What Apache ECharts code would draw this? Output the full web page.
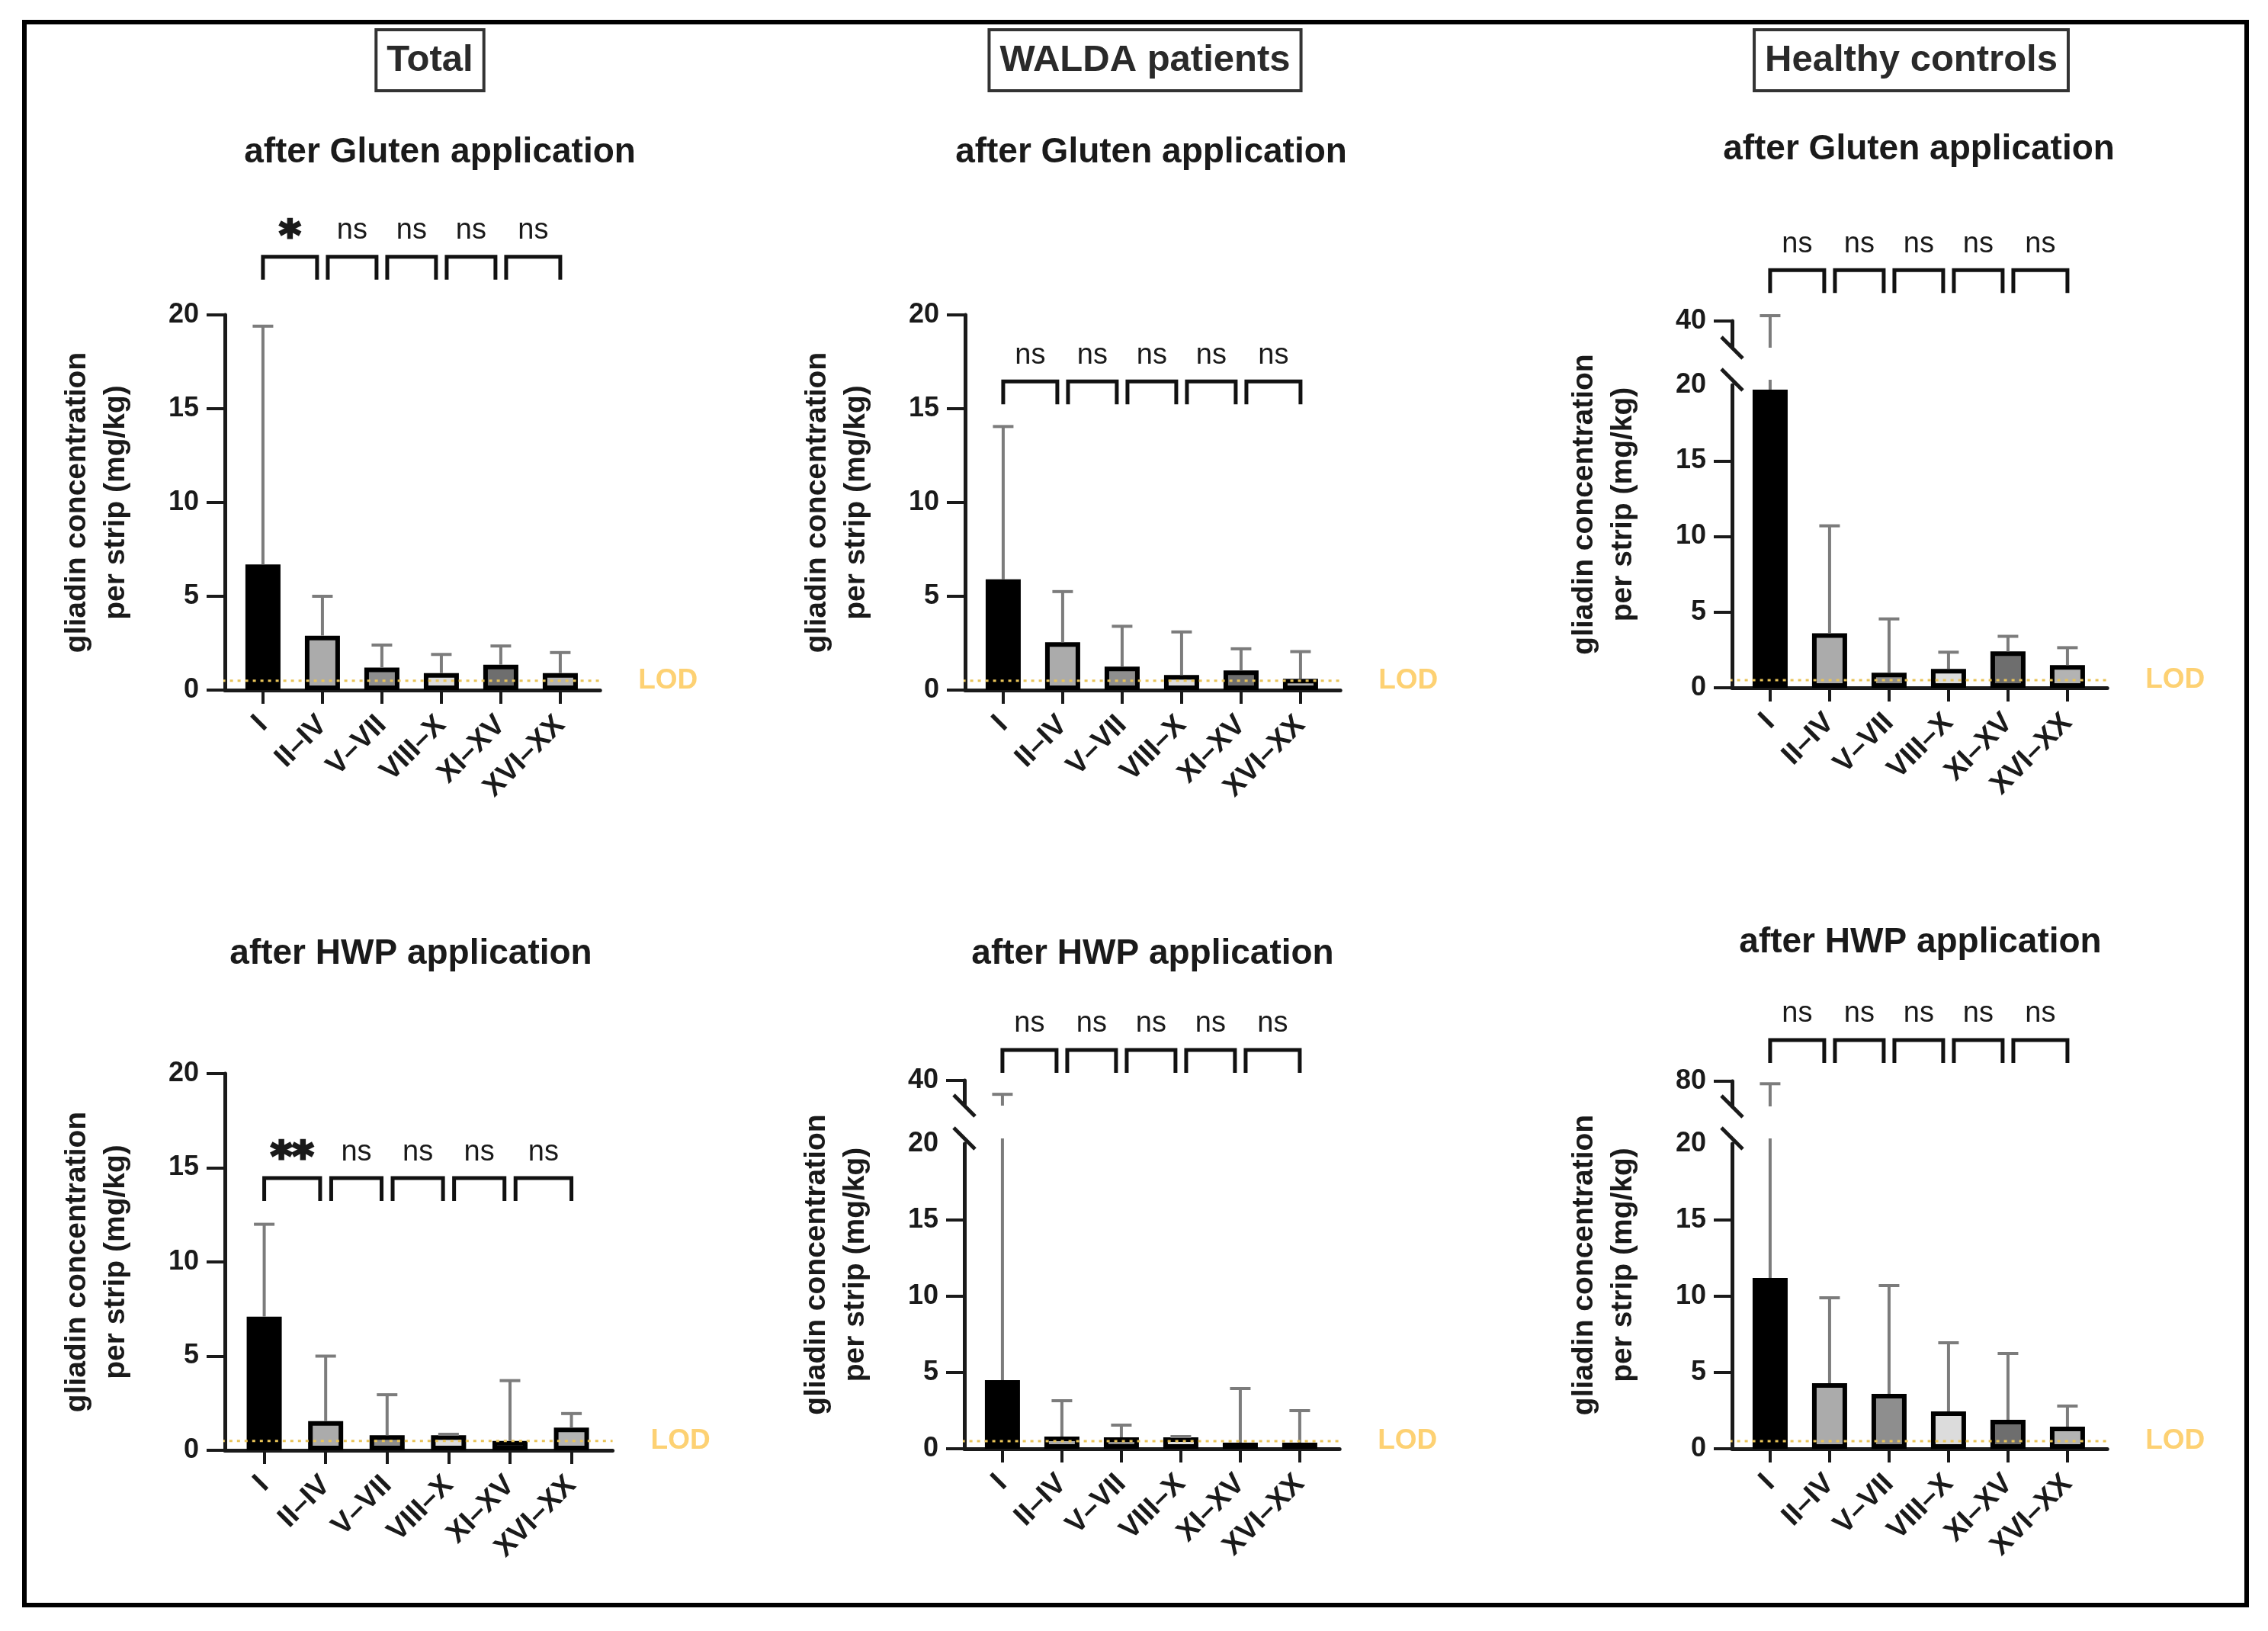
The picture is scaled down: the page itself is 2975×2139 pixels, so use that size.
<!DOCTYPE html>
<html>
<head>
<meta charset="utf-8">
<title>Gliadin per strip</title>
<script src="https://cdn.jsdelivr.net/npm/echarts@6/dist/echarts.min.js"></script>
<style>
    html, body { margin: 0; padding: 0; background: #fff; }
    #chart { width: 2975px; height: 2139px; }
</style>
</head>
<body>
<div id="chart"></div>
<script>
// strips (categories) and their fill colours
const categories = ['I', 'II–IV', 'V–VII', 'VIII–X', 'XI–XV', 'XVI–XX'];
const barColors = ['#000000', '#ababab', '#8e8e8e', '#dcdcdc', '#6e6e6e', '#b3b3b3'];
const lodValue = 0.5;
const lowerTicks = [0, 5, 10, 15, 20];

// mean and top of the error bar (mean + SD), mg/kg
const totalGlutenMean = [6.7, 2.9, 1.2, 0.9, 1.35, 0.9];
const totalGlutenTop = [19.4, 5.0, 2.4, 1.9, 2.35, 2.0];
const totalGlutenSig = ['*', 'ns', 'ns', 'ns', 'ns'];

const waldaGlutenMean = [5.9, 2.55, 1.25, 0.8, 1.05, 0.6];
const waldaGlutenTop = [14.05, 5.25, 3.4, 3.1, 2.2, 2.05];
const waldaGlutenSig = ['ns', 'ns', 'ns', 'ns', 'ns'];

const healthyGlutenMean = [19.7, 3.6, 1.0, 1.25, 2.4, 1.5];
const healthyGlutenTop = [42, 10.7, 4.55, 2.35, 3.4, 2.65];
const healthyGlutenSig = ['ns', 'ns', 'ns', 'ns', 'ns'];

const totalHwpMean = [7.1, 1.55, 0.8, 0.8, 0.5, 1.2];
const totalHwpTop = [12.0, 5.0, 2.95, 0.85, 3.7, 1.95];
const totalHwpSig = ['**', 'ns', 'ns', 'ns', 'ns'];

const waldaHwpMean = [4.5, 0.8, 0.75, 0.75, 0.4, 0.4];
const waldaHwpTop = [34.5, 3.15, 1.55, 0.8, 3.95, 2.5];
const waldaHwpSig = ['ns', 'ns', 'ns', 'ns', 'ns'];

const healthyHwpMean = [11.2, 4.3, 3.6, 2.45, 1.9, 1.45];
const healthyHwpTop = [78, 9.9, 10.7, 6.95, 6.25, 2.8];
const healthyHwpSig = ['ns', 'ns', 'ns', 'ns', 'ns'];

// upper segment of the broken axes
const healthyGlutenUpper = [30, 40];
const waldaHwpUpper = [30, 40];
const healthyHwpUpper = [60, 80];

// ---- layout ----
const FONT = "'Liberation Sans', Arial, sans-serif";
const INK = '#1a1a1a';
const X_MIN = -0.64;
const X_MAX = 5.67;
const CAP_W = 27;
const LEG = 30;
const BRACKET_GAP = 0.09;

const panels = [
    { title: 'after Gluten application', tx: 577, ty: 200, mean: totalGlutenMean, errTop: totalGlutenTop, sig: totalGlutenSig,
      axisX: 295, band: 78, top: 413, bottom: 905, bracketAt: 23.1 },
    { title: 'after Gluten application', tx: 1510, ty: 200, mean: waldaGlutenMean, errTop: waldaGlutenTop, sig: waldaGlutenSig,
      axisX: 1266, band: 78, top: 413, bottom: 905, bracketAt: 16.45 },
    { title: 'after Gluten application', tx: 2517, ty: 196, mean: healthyGlutenMean, errTop: healthyGlutenTop, sig: healthyGlutenSig,
      axisX: 2272, band: 78, top: 505, bottom: 902, bracketAt: 27.6,
      upper: { range: healthyGlutenUpper, top: 421, bottom: 456 } },
    { title: 'after HWP application', tx: 539, ty: 1251, mean: totalHwpMean, errTop: totalHwpTop, sig: totalHwpSig,
      axisX: 295, band: 80.6, top: 1408, bottom: 1902, bracketAt: 14.45 },
    { title: 'after HWP application', tx: 1512, ty: 1251, mean: waldaHwpMean, errTop: waldaHwpTop, sig: waldaHwpSig,
      axisX: 1265, band: 78, top: 1500, bottom: 1900, bracketAt: 26.15,
      upper: { range: waldaHwpUpper, top: 1417, bottom: 1450 } },
    { title: 'after HWP application', tx: 2519, ty: 1236, mean: healthyHwpMean, errTop: healthyHwpTop, sig: healthyHwpSig,
      axisX: 2272, band: 78, top: 1500, bottom: 1900, bracketAt: 26.8,
      upper: { range: healthyHwpUpper, top: 1418, bottom: 1451 } }
];

const headers = [
    { text: 'Total', x: 564, y: 79 },
    { text: 'WALDA patients', x: 1502, y: 79 },
    { text: 'Healthy controls', x: 2507, y: 79 }
];

const axisLine = { show: true, onZero: false, lineStyle: { color: INK, width: 5 } };
const tickStyle = { color: INK, width: 4 };
const labelStyle = { color: INK, fontFamily: FONT, fontWeight: 'bold' };
const catIndex = categories.map((c, i) => i);

function makeErrorRenderer(segMin, segMax, openTop) {
    return function (params, api) {
        const x = api.value(0), mean = api.value(1), top = api.value(2);
        if (top <= segMin) return { type: 'group', children: [] };
        const capped = openTop || top <= segMax;
        const from = api.coord([x, Math.max(mean, segMin)]);
        const to = api.coord([x, capped ? top : segMax]);
        if (!capped) to[1] -= 7;
        const style = { stroke: '#7c7c7c', lineWidth: 4 };
        const children = [{ type: 'line', shape: { x1: from[0], y1: from[1], x2: to[0], y2: to[1] }, style: style }];
        if (capped) {
            children.push({ type: 'line', shape: { x1: to[0] - CAP_W / 2, y1: to[1], x2: to[0] + CAP_W / 2, y2: to[1] }, style: style });
        }
        return { type: 'group', children: children };
    };
}

function makeBracketRenderer(at, labels) {
    return function (params, api) {
        const k = api.value(0);
        const left = k === 0 ? k : k + BRACKET_GAP;
        const right = k === labels.length - 1 ? k + 1 : k + 1 - BRACKET_GAP;
        const a = api.coord([left, at]);
        const b = api.coord([right, at]);
        const star = labels[k].indexOf('*') >= 0;
        const textStyle = { text: labels[k], fill: INK, align: 'center', verticalAlign: 'middle',
                            fontFamily: star ? "'DejaVu Sans', sans-serif" : FONT,
                            fontSize: star ? 54 : 38, fontWeight: star ? 'bold' : 'normal' };
        if (star) {
            textStyle.stroke = INK;
            textStyle.lineWidth = 3;
        }
        return {
            type: 'group',
            children: [
                { type: 'polyline', shape: { points: [[a[0], a[1] + LEG], [a[0], a[1]], [b[0], b[1]], [b[0], b[1] + LEG]] },
                  style: { stroke: '#111', lineWidth: 5, fill: null } },
                { type: 'text', x: (a[0] + b[0]) / 2, y: a[1] - (star ? 24 : 34), style: textStyle }
            ]
        };
    };
}

function makeBreakRenderer(shift) {
    return function (params, api) {
        const c = api.coord([api.value(0), api.value(1)]);
        c[1] += shift;
        return { type: 'line', shape: { x1: c[0] - 14, y1: c[1] - 14, x2: c[0] + 14, y2: c[1] + 14 },
                 style: { stroke: INK, lineWidth: 5 } };
    };
}

const grids = [], xAxes = [], yAxes = [], series = [];
const graphics = [
    { type: 'rect', shape: { x: 32, y: 29, width: 2915, height: 2076 }, style: { fill: null, stroke: '#000', lineWidth: 6 } }
];

headers.forEach(h => {
    graphics.push({ type: 'text', x: h.x, y: h.y,
        style: { text: h.text, fill: '#2a2a2a', fontFamily: FONT, fontWeight: 'bold', fontSize: 49, lineHeight: 56,
                 align: 'center', verticalAlign: 'middle', borderColor: '#333', borderWidth: 4, padding: [12, 14] } });
});

panels.forEach(p => {
    const width = p.band * (X_MAX - X_MIN);
    const g = grids.length;
    const broken = !!p.upper;
    grids.push({ left: p.axisX, top: p.top, width: width, height: p.bottom - p.top });
    xAxes.push({
        gridIndex: g, type: 'value', min: X_MIN, max: X_MAX,
        axisLine: axisLine,
        axisTick: { show: true, customValues: catIndex, length: 18, lineStyle: tickStyle },
        axisLabel: Object.assign({ customValues: catIndex, formatter: v => categories[Math.round(v)],
                                   rotate: 45, margin: 40, fontSize: 38 }, labelStyle),
        splitLine: { show: false }
    });
    const yTick = { show: true, length: 24, lineStyle: tickStyle };
    if (broken) yTick.customValues = lowerTicks.slice(0, -1);
    yAxes.push({
        gridIndex: g, type: 'value', min: 0, max: 20, interval: 5,
        axisLine: axisLine, axisTick: yTick,
        axisLabel: Object.assign({ customValues: lowerTicks, margin: 34, fontSize: 36 }, labelStyle),
        splitLine: { show: false }
    });

    series.push({
        type: 'bar', xAxisIndex: g, yAxisIndex: g, barWidth: 46, silent: true, z: 2,
        data: p.mean.map((v, i) => [i, v]),
        itemStyle: { color: params => barColors[params.dataIndex], borderColor: '#000', borderWidth: 6 }
    });
    series.push({
        type: 'custom', xAxisIndex: g, yAxisIndex: g, silent: true, z: 3,
        encode: { x: 0, y: 1 },
        data: p.mean.map((v, i) => [i, v, p.errTop[i]]),
        renderItem: makeErrorRenderer(0, 20, !broken)
    });
    series.push({
        type: 'line', xAxisIndex: g, yAxisIndex: g, silent: true, z: 5, clip: false,
        symbol: 'none',
        data: [[X_MIN - 0.3, lodValue], [X_MAX, lodValue]],
        lineStyle: { color: '#e9c458', width: 3, type: [4, 6] },
        endLabel: { show: true, formatter: 'LOD', distance: 50, color: '#fdd173',
                    fontFamily: FONT, fontWeight: 'bold', fontSize: 37 }
    });
    series.push({
        type: 'custom', xAxisIndex: g, yAxisIndex: g, silent: true, z: 4,
        encode: { x: 0 },
        data: p.sig.map((s, k) => [k]),
        renderItem: makeBracketRenderer(p.bracketAt, p.sig)
    });

    if (broken) {
        const u = p.upper;
        const gu = grids.length;
        grids.push({ left: p.axisX, top: u.top, width: width, height: u.bottom - u.top });
        xAxes.push({ gridIndex: gu, type: 'value', min: X_MIN, max: X_MAX, show: false });
        yAxes.push({
            gridIndex: gu, type: 'value', min: u.range[0], max: u.range[1],
            axisLine: axisLine,
            axisTick: { show: true, customValues: [u.range[1]], length: 24, lineStyle: tickStyle },
            axisLabel: Object.assign({ customValues: [u.range[1]], margin: 34, fontSize: 36 }, labelStyle),
            splitLine: { show: false }
        });
        series.push({
            type: 'custom', xAxisIndex: gu, yAxisIndex: gu, silent: true, z: 3,
            encode: { x: 0, y: 1 },
            data: p.mean.map((v, i) => [i, v, p.errTop[i]]),
            renderItem: makeErrorRenderer(u.range[0], u.range[1], true)
        });
        series.push({
            type: 'custom', xAxisIndex: gu, yAxisIndex: gu, silent: true, z: 4,
            data: [[X_MIN, u.range[0]]], renderItem: makeBreakRenderer(0)
        });
        series.push({
            type: 'custom', xAxisIndex: g, yAxisIndex: g, silent: true, z: 4,
            data: [[X_MIN, 20]], renderItem: makeBreakRenderer(-7)
        });
    }

    // subtitle and y axis title
    graphics.push({ type: 'text', x: p.tx, y: p.ty,
        style: { text: p.title, fill: INK, fontFamily: FONT, fontWeight: 'bold', fontSize: 46,
                 align: 'center', verticalAlign: 'middle' } });
    const spanTop = broken ? p.upper.top : p.top;
    graphics.push({ type: 'text', x: p.axisX - 168, y: (spanTop + p.bottom) / 2, rotation: Math.PI / 2,
        style: { text: 'gliadin concentration\nper strip (mg/kg)', fill: INK, fontFamily: FONT, fontWeight: 'bold',
                 fontSize: 39, lineHeight: 51, align: 'center', verticalAlign: 'middle' } });
});

const chart = echarts.init(document.getElementById('chart'));
chart.setOption({
    backgroundColor: '#fff',
    animation: false,
    grid: grids,
    xAxis: xAxes,
    yAxis: yAxes,
    series: series,
    graphic: graphics
});
</script>
</body>
</html>
